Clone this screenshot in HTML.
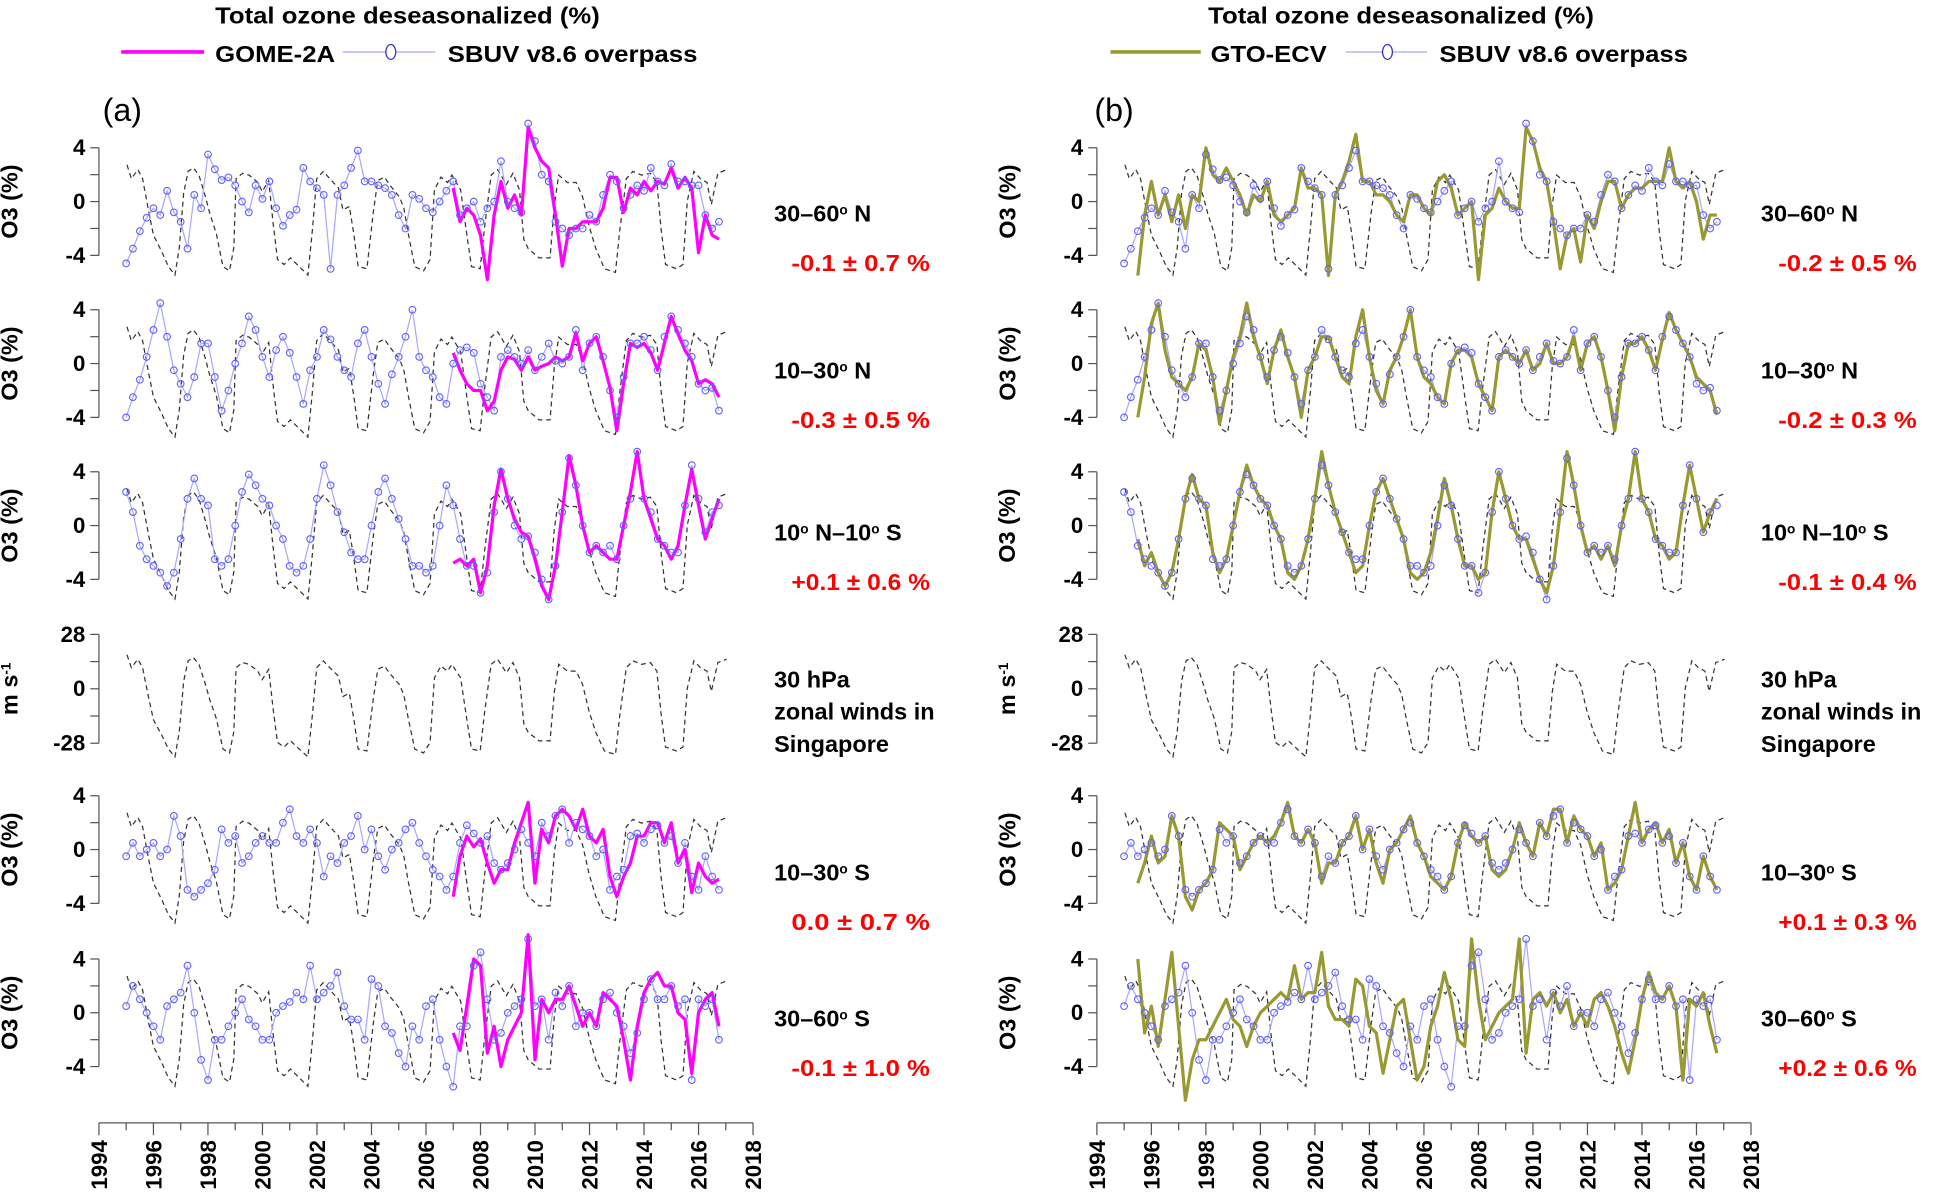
<!DOCTYPE html>
<html><head><meta charset="utf-8"><title>Total ozone deseasonalized</title>
<style>
html,body{margin:0;padding:0;background:#fff;}
svg{display:block;font-family:"Liberation Sans",sans-serif;}
.b{font-weight:bold;}
</style></head>
<body>
<svg id="chart" xmlns="http://www.w3.org/2000/svg" width="1939" height="1202" viewBox="0 0 1568 972">
  <g>
    <text class="b" x="174" y="19" font-size="19" textLength="311" lengthAdjust="spacingAndGlyphs">Total ozone deseasonalized (%)</text>
    <line x1="98" y1="42" x2="165" y2="42" stroke="#ff00ff" stroke-width="3"/>
    <text class="b" x="174" y="50" font-size="19" textLength="97" lengthAdjust="spacingAndGlyphs">GOME-2A</text>
    <line x1="277" y1="42" x2="352" y2="42" stroke="#a8a8ff" stroke-width="1"/>
    <ellipse cx="316" cy="42" rx="4" ry="6" fill="#fff" stroke="#3333cc" stroke-width="1"/>
    <text class="b" x="362" y="50" font-size="19" textLength="202" lengthAdjust="spacingAndGlyphs">SBUV v8.6 overpass</text>
    <text x="83" y="98" font-size="26">(a)</text>
  </g>
  <g>
    <text class="b" x="977" y="19" font-size="19" textLength="312" lengthAdjust="spacingAndGlyphs">Total ozone deseasonalized (%)</text>
    <line x1="898" y1="42" x2="971" y2="42" stroke="#999933" stroke-width="3"/>
    <text class="b" x="979" y="50" font-size="19" textLength="94" lengthAdjust="spacingAndGlyphs">GTO-ECV</text>
    <line x1="1088" y1="42" x2="1154" y2="42" stroke="#a8a8ff" stroke-width="1"/>
    <ellipse cx="1122" cy="42" rx="4" ry="6" fill="#fff" stroke="#3333cc" stroke-width="1"/>
    <text class="b" x="1164" y="50" font-size="19" textLength="201" lengthAdjust="spacingAndGlyphs">SBUV v8.6 overpass</text>
    <text x="885" y="98" font-size="26">(b)</text>
  </g>
</svg>
<script>
// ---- data ----
const tickYears = [1994,1996,1998,2000,2002,2004,2006,2008,2010,2012,2014,2016,2018];
const qboYears = [1995.03,1995.19,1995.43,1995.6,1995.83,1996.0,1996.31,1996.55,1996.79,1996.95,1997.11,1997.27,1997.46,1997.67,1997.91,1998.07,1998.31,1998.55,1998.79,1998.95,1999.03,1999.27,1999.51,1999.83,1999.99,2000.23,2000.39,2000.55,2000.79,2001.03,2001.35,2001.67,2001.83,2001.99,2002.23,2002.47,2002.79,2002.95,2003.19,2003.35,2003.51,2003.83,2004.07,2004.23,2004.47,2004.71,2005.03,2005.19,2005.35,2005.59,2005.91,2006.15,2006.31,2006.55,2006.79,2006.95,2007.27,2007.51,2007.67,2007.99,2008.15,2008.39,2008.63,2008.95,2009.19,2009.43,2009.59,2009.75,2010.15,2010.55,2010.71,2010.87,2011.19,2011.51,2011.75,2011.99,2012.23,2012.55,2012.95,2013.11,2013.35,2013.59,2013.91,2014.23,2014.47,2014.63,2014.79,2015.19,2015.43,2015.59,2015.83,2016.07,2016.31,2016.47,2016.71,2017.03];
const qboWind = [17.5,10.9,15.2,10.9,-4.9,-16,-24,-31,-35,-22,3.9,14.4,16.1,12.6,2.1,-5.8,-15.4,-31,-33,-22,10.9,13.5,12.6,9.1,4.7,10,-10,-27.6,-30,-26.8,-31,-35,-13.6,10.9,14.4,10.9,6.5,-4,-2.3,-15.4,-31,-32,-4.9,10,11.7,7.3,2.1,-3.2,-15.4,-31,-33,-27.6,5.6,11.7,9.1,12.6,5.6,-17,-31,-32,-11.9,12.6,15.2,8.2,13.5,5.6,-18,-22.4,-26.8,-26.8,-1.4,12.6,9.1,9.1,2.1,-11.9,-22.4,-32,-33.8,-13.6,10.9,14.4,12.6,13.5,9.1,-13.6,-30,-32,-30,0.3,14.4,10.9,9.1,-1.4,13.5,15.2];
const sbuvStart = 1995.0, gomeStart = 2007.0, gtoStart = 1995.5, step = 0.25;

const sbuv1 = [-4.6,-3.5,-2.2,-1.2, -0.5,-1,0.8,-0.8, -1.5,-3.5,0.5,-0.5, 3.5,2.4,1.6,1.8, 1.2,0,-0.8,1.2, 0.2,1.5,-0.5,-1.8, -1,-0.6,2.5,1.5, 1,0.5,-5,0.5, 1.2,2.5,3.8,1.5, 1.5,1.2,1,0.5, -1,-2,0.5,0.2, -0.5,-0.8,0,0.8, 1.5,-1,-0.5,0, -1.5,-0.5,0,3, 0,-0.5,-0.8,5.8, 4.5,2,1.5,-1.5, -2,-2.5,-2,-2, -1,-1.5,0.5,2, 1.5,-0.5,0.5,1.2, 0.8,2.5,1.5,1.2, 2.8,1.5,1.5,1.2, 1.2,-1,-2,-1.5];
const gome1 = [1,-1.5,-0.5,-1, -2.5,-5.8,-1,1.5, -0.5,0.5,-1,5.5, 4,3,2.5,-1, -4.8,-2,-2,-1.5, -1.5,-1.5,-0.5,1.8, 1.8,-0.8,1,0.5, 1.5,0.8,1.5,1.3, 2.5,1,1.8,1, -3.8,-1,-2.5,-2.8];
const gto1 = [-5.5,-1, 1.5,-1,0.5,-1.5, 0.5,-2,0.5,0, 4,2,1.5,2.5, 1.5,0.5,-1,0.5, 0,1.5,-1,-1.5, -1,-0.5,2.5,1, 1,0.5,-5.5,0.5, 1.5,3,5,1.5, 1.5,0.5,0.5,0, -1,-1.5,0.5,0.5, -0.5,-1,1.5,2, 1,-1,-0.5,0, -5.8,-1,-0.5,1, 0,-0.5,-0.5,5.5, 4.5,2.5,1.5,-1.5, -5,-2.5,-2,-4.5, -1,-2,0,1.5, 1.5,-0.5,0.5,1, 1,1.5,1.5,1.5, 4,1.5,1,1.5, 0,-2.8,-1,-1];

const sbuv2 = [-4,-2.5,-1.2,0.5, 2.5,4.5,2,-0.5, -1.5,-2.5,-1,1.5, 1.5,-1,-3.5,-2, 0,1.5,3.5,2.5, 0.5,-1,1,2, 0.8,-1,-3,-0.5, 0.5,2.5,1.8,0.5, -0.5,-1,1.5,2.5, 0.5,-1.5,-3,-0.8, 0.5,2,4,0.5, -0.5,-1,-2.5,-3, 0,1,1.2,0.8, -1.5,-2.5,-3.5,0.5, 1,0.5,0,1, -0.5,0.5,1.5,0.2, 0,0.5,2.5,-0.5, 1.5,2,0.5,-2, -4,-1,1.5,1.5, 2,1,-0.5,2, 3.5,2.5,1.5,0.5, -1.5,-2,-1.8,-3.5];
const gome2 = [0.8,-0.5,-1.5,-2, -2,-3.5,-2.8,-0.5, 0.5,0.3,-0.5,0.5, -0.5,-0.2,0,0.5, 0.2,0.5,2.3,0.2, 1.5,2,0.2,-1.8, -5,-1.5,1.5,1.2, 1.5,0.8,-0.5,1.5, 3.5,2.2,1,0.2, -1.5,-1.2,-1.5,-2.5];
const gto2 = [-4,-1, 3,4.5,1,-1, -1.5,-2,-1,1.5, 1,-1,-4.5,-2, 0.5,2,4.5,2, 0.5,-1.5,1,2.5, 0.5,-1,-4,-0.5, 0.5,2,2,0.5, -1,-1.5,2,4, 0.5,-2,-3,-0.5, 0.5,2,4,0.5, -1,-1.5,-2.5,-3, 0,1,1,0.5, -1.5,-2.5,-3.5,0.5, 1,0.5,0,1, -0.5,0,1.5,0, 0,0.5,2,-0.5, 1.5,2,0.5,-2, -5,-1,1.5,1.5, 2,1,-0.5,1.8, 3.8,2.5,1.5,0.5, -1,-1.5,-2,-3.8];

const sbuv3 = [2.5,1,-1.5,-2.5, -3,-3.5,-4.5,-3.5, -1,2,3.5,2, 1.5,-2.5,-3,-2.5, 0,2.5,3.8,3, 2,1.5,0,-1, -3,-3.5,-3,-1, 2,4.5,3,1, -0.5,-2,-2.5,-2.5, 0,2.5,3.5,2, 0.5,-1,-3,-3, -3.5,-3,0,3, 1.5,-1,-3,-3, -5,-3.5,1,4, 2,0,-1,-0.8, -2,-4,-5.5,-3, 1,5,3,0, -2,-1.5,-2,-1.5, -2.5,0,2,5.5, 2,1,-1,-1.5, -2,-2,1.5,4.5, 2,-0.5,1,1.5];
const gome3 = [-2.8,-2.5,-3,-2.5, -5,-3,1.5,4.2, 2,0.5,-0.5,-0.8, -2.5,-4.5,-5.5,-3, 1,5.2,3,0, -2,-1.5,-2,-2.5, -2.5,0,2.5,5.5, 2,0.5,-1,-1.5, -2.5,-1.5,1.5,4.2, 1.5,-1,0.5,2];
const gto3 = [-1,-3, -2,-3.5,-4.5,-3.5, -1,2,3.8,2, 1.5,-2,-3.5,-2.5, 0,2.5,4.5,3, 2,1.5,0,-1, -3.5,-4,-3,-1, 2,5.5,3,1, -0.5,-2,-3.5,-3, 0,2.5,3.5,2, 0.5,-1,-3.5,-4, -3.5,-2,0.5,3.5, 1.5,-1,-3,-3, -4,-3.5,1,4, 2,0,-1,-1, -2.5,-4,-5,-3, 1,5.5,3,0, -2,-1.5,-2.5,-1.5, -3,0,2,5.5, 2,1,-1,-1.5, -2.5,-2,1.5,4.5, 2,-0.5,1,2];

const sbuv5 = [-0.5,0.5,-0.5,0, 0.5,-0.5,0,2.5, 1,-3,-3.5,-3, -2.5,-1.5,1.5,0.5, 1,-1,-0.5,0.5, 1,0.5,0.5,2, 3,1,0.5,1.5, 0.5,-2,-0.5,-1, 0.5,1,2.5,0, 1.5,-0.5,-1.5,0, 0.5,1.5,2,0.5, -0.5,-1.5,-2,-3, -2,0.5,1.8,1.2, 0.5,1,-1,-1.5, -1,0,1.5,0.5, -0.5,2,1,2.5, 3,0.5,2,1.5, 1,-0.5,0,-3, -2,-1.5,1,1.2, 0.5,1.5,1.8,0.5, 1,-1,0.5,-2, -3,-0.5,-2,-3];
const gome5 = [-3.5,-0.5,1,0.2, 0.8,-1,-2.5,-1.5, -1.5,0.5,2,3.5, -2.5,1.5,0.5,2.5, 3,2.5,1.5,3, 1,0.5,1.5,-2, -3.5,-2,-1,1, 1,2,2,0.5, 2,-1,0,-3.2, -1,-2,-2.5,-2.2];
const gto5 = [-2.5,-1, 1,-1,-0.5,2.5, 1,-3.5,-4.5,-3, -2.5,-1.5,2,1.5, 1,-1.5,-0.5,0.5, 1,0.5,1,2, 3.5,1,0.5,1.5, 0.5,-2.5,-1,-1, 0.5,1,2.5,0, 1.5,-1,-2.5,0, 0.5,1.5,2.5,0.5, -0.5,-2,-2.5,-3, -2,0.5,2,1, 0.5,1,-1.5,-2, -1.5,0,2,0.5, -0.5,2,1,3, 3,0.5,2.5,1.5, 1,-0.5,0.5,-3, -2.5,-1.5,1,3.5, 0.5,1.5,2,0.5, 1.5,-1,0.5,-2, -3,-0.5,-2,-3];

const sbuv6 = [0.5,2,1,0, -1,-2,0.5,1, 1.5,3.5,0,-3.5, -5,-2,-2,-1, 0,1,-0.5,-1, -2,-2,0,0.5, 0.8,1.5,1,3.5, 1,1.5,2,3, 0.5,-0.5,-0.5,-2, 2.5,2,-1,-1.5, -3,-4,-1,-2, 0.5,1,-2,-4, -5.5,-1,-1,3.5, 4.5,1,-2,-1.5, 0,0.5,1,5.5, 0.5,1,-2,1.5, 0.5,2,-1,0, 0,-1,1,1.5, 0,-1,-3,-1.5, 1,2.5,1,1, 2,0.5,1,-5, 1,0.5,1,-2];
const gome6 = [-1.5,-2.8,0.5,4, 3.5,-3,-1,-4, -2,-1,0,5.8, -3.5,1,0,1, 1,2,0.5,-1, 0,-1,1.5,1, 0.5,-2,-5,-1, 1.5,2.5,3,2, 2,0,-0.5,-4.5, 0,1,1.5,-1];
const gto6 = [4,-1.5, 0.5,-2.5,1,4.5, -1,-6.5,-3.5,-2, -2,-1,0,1, -0.5,-1,-2.5,-1, 0,0.5,1,1.5, 1,3.5,1,1.5, 1.5,4.5,0.5,-0.5, -0.5,-1,2.5,2, -1,-1.5,-4.5,-2, 0.5,1,-2,-5, -4,-1,0.5,3, 1,-2,-2.5,5.5, 1,-2,-1,0, 0.5,1,5.5,-3, 1,1.5,0.5,1.5, 0,1,-1,0, -1,1,1.5,0.5, -1,-3,-4.5,-2, 1,3,1.5,1, 2,0.5,-5,1, 0.5,1.5,-1,-3];

const trendsA = ["-0.1 ± 0.7 %","-0.3 ± 0.5 %","+0.1 ± 0.6 %","0.0 ± 0.7 %","-0.1 ± 1.0 %"];
const trendsB = ["-0.2 ± 0.5 %","-0.2 ± 0.3 %","-0.1 ± 0.4 %","+0.1 ± 0.3 %","+0.2 ± 0.6 %"];

// ---- layout ----
const NS = "http://www.w3.org/2000/svg";
const svg = document.getElementById("chart");
const panelX0 = [80, 887];
const pxPerYear = 22.04;
const rowZero = [163, 294, 425, 557, 687, 819];
const o3Scale = 10.875;
const windScale = 44 / 28;
const qboToO3 = 0.156;
const xAxisY = 908;

function xOf(p, yr){ return panelX0[p] + (yr - 1994) * pxPerYear; }
function yO3(r, v){ return rowZero[r] - v * o3Scale; }
function yWind(r, v){ return rowZero[r] - v * windScale; }
function mk(tag, attrs, parent){
  const e = document.createElementNS(NS, tag);
  for (const k in attrs) e.setAttribute(k, attrs[k]);
  (parent || svg).appendChild(e);
  return e;
}
function pathFrom(xs, ys){
  let d = "";
  for (let i = 0; i < xs.length; i++) d += (i ? "L" : "M") + xs[i].toFixed(1) + " " + ys[i].toFixed(1);
  return d;
}

const rows = [
  {sbuv: sbuv1, gome: gome1, gto: gto1},
  {sbuv: sbuv2, gome: gome2, gto: gto2},
  {sbuv: sbuv3, gome: gome3, gto: gto3},
  null,
  {sbuv: sbuv5, gome: gome5, gto: gto5},
  {sbuv: sbuv6, gome: gome6, gto: gto6}
];

for (let p = 0; p < 2; p++) {
  const x0 = panelX0[p];
  for (let r = 0; r < 6; r++) {
    const g = mk("g", {});
    
    
    const isWind = r === 3;
    const yf = isWind ? (v => yWind(r, v)) : (v => yO3(r, v));
    const lim = isWind ? 28 : 4;
    const ax = mk("line", {x1: x0, x2: x0, y1: yf(lim), y2: yf(-lim), stroke: "#555", "stroke-width": 1}, g);
    
    
    for (let k = -2; k <= 2; k++) {
      const v = lim * k / 2;
      const t = mk("line", {x1: x0 - 7, x2: x0, y1: yf(v), y2: yf(v), stroke: "#555", "stroke-width": 1}, g);
      
      
      if (k % 2 === 0) {
        const lb = mk("text", {x: x0 - 11, y: yf(v) + 6, "text-anchor": "end", "font-size": 18, "font-weight": "bold"}, g);
        
        
        lb.textContent = String(v);
      }
    }
    const tx = x0 - 66, ty = rowZero[r];
    const yt = mk("text", {x: tx, y: ty, "text-anchor": "middle", "font-size": 19, "font-weight": "bold", transform: "rotate(-90 " + tx + " " + ty + ")"}, g);
    
    
    if (isWind) {
      yt.textContent = "m s";
      const sup = mk("tspan", {"baseline-shift": "super", "font-size": 11}, yt);
      sup.textContent = "-1";
    } else yt.textContent = "O3 (%)";

    const qx = qboYears.map(v => xOf(p, v));
    const qy = qboWind.map(v => isWind ? yWind(r, v) : yO3(r, v * qboToO3));
    const q = mk("path", {d: pathFrom(qx, qy), fill: "none", stroke: "#333", "stroke-width": 1, "stroke-dasharray": "4 3"}, g);
    
    

    if (!isWind) {
      const d = rows[r];
      const sx = d.sbuv.map((v, i) => xOf(p, sbuvStart + i * step));
      const sy = d.sbuv.map(v => yO3(r, v));
      const sl = mk("path", {d: pathFrom(sx, sy), fill: "none", stroke: "#a8a8ff", "stroke-width": 1}, g);
      
      
      const sat = p === 0 ? d.gome : d.gto;
      const st = p === 0 ? gomeStart : gtoStart;
      const gx = sat.map((v, i) => xOf(p, st + i * step));
      const gy = sat.map(v => yO3(r, v));
      const gl = mk("path", {d: pathFrom(gx, gy), fill: "none", stroke: p === 0 ? "#ff00ff" : "#999933", "stroke-width": 2.6, "stroke-linejoin": "round"}, g);
      
      
      for (let i = 0; i < sx.length; i++) {
        const c = mk("circle", {cx: sx[i].toFixed(1), cy: sy[i].toFixed(1), r: 2.7, fill: "none", stroke: "#6060ff", "stroke-width": 0.9}, g);
        
        
      }
    }
  }

  const xg = mk("g", {});
  
  
  const xl = mk("line", {x1: xOf(p, 1994), x2: xOf(p, 2018), y1: xAxisY, y2: xAxisY, stroke: "#555", "stroke-width": 1}, xg);
  
  
  for (let yr = 1994; yr <= 2018; yr++) {
    const major = tickYears.indexOf(yr) >= 0;
    const t = mk("line", {x1: xOf(p, yr), x2: xOf(p, yr), y1: xAxisY, y2: xAxisY + (major ? 10 : 6), stroke: "#555", "stroke-width": 1}, xg);
    
    
  }
  tickYears.forEach(yr => {
    const x = xOf(p, yr) + 6.5, y = xAxisY + 14;
    const lb = mk("text", {x: x, y: y, "text-anchor": "end", "font-size": 18, "font-weight": "bold", transform: "rotate(-90 " + x + " " + y + ")"}, xg);
    
    
    lb.textContent = String(yr);
  });
}

const labelX = [626, 1424];
const regionText = [["30–60","N"],["10–30","N"],null,null,["10–30","S"],["30–60","S"]];
const regionBase = [179, 306, 437, 0, 712, 830];
for (let p = 0; p < 2; p++) {
  const trends = p === 0 ? trendsA : trendsB;
  let ti = 0;
  for (let r = 0; r < 6; r++) {
    if (r === 3) {
      ["30 hPa","zonal winds in","Singapore"].forEach((s, k) => {
        const t = mk("text", {x: labelX[p], y: 556 + k * 26, "font-size": 19, "font-weight": "bold"});
        
        
        t.textContent = s;
      });
      continue;
    }
    const t = mk("text", {x: labelX[p], y: regionBase[r], "font-size": 19, "font-weight": "bold"});
    
    
    if (r === 2) {
      t.appendChild(document.createTextNode("10"));
      const s1 = mk("tspan", {"baseline-shift": "super", "font-size": 11}, t); s1.textContent = "o";
      t.appendChild(document.createTextNode(" N–10"));
      const s2 = mk("tspan", {"baseline-shift": "super", "font-size": 11}, t); s2.textContent = "o";
      t.appendChild(document.createTextNode(" S"));
    } else {
      t.appendChild(document.createTextNode(regionText[r][0]));
      const s1 = mk("tspan", {"baseline-shift": "super", "font-size": 11}, t); s1.textContent = "o";
      t.appendChild(document.createTextNode(" " + regionText[r][1]));
    }
    const tr = mk("text", {x: labelX[p] + 14, y: regionBase[r] + 40, "font-size": 19, "font-weight": "bold", fill: "#ff0000", textLength: 112, lengthAdjust: "spacingAndGlyphs"});
    
    
    tr.textContent = trends[ti++];
  }
}
</script>
</body></html>
